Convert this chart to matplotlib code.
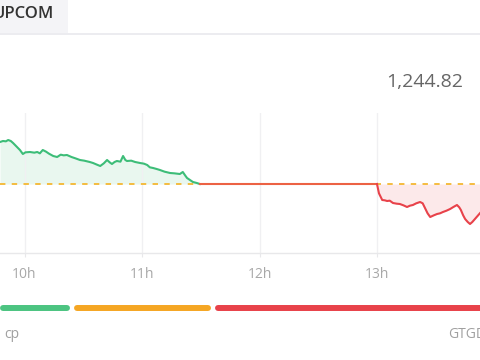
import matplotlib
matplotlib.use("Agg")
import matplotlib.pyplot as plt

# ---------------- data ----------------
ref_value = 1250.00
last_value_label = "1,244.82"
tab_label = "UPCOM"

green_times = ["09:47:30", "09:49:00", "09:50:30", "09:51:40", "09:53:00", "09:54:10", "09:56:00",
               "09:57:40", "09:59:10", "10:00:30", "10:02:50", "10:05:00", "10:06:30", "10:07:50",
               "10:09:20", "10:11:00", "10:12:30", "10:14:40", "10:16:40", "10:18:30", "10:20:00",
               "10:21:40", "10:24:00", "10:26:00", "10:28:20", "10:30:30", "10:33:20", "10:35:00",
               "10:37:00", "10:38:40", "10:40:30", "10:42:10", "10:43:30", "10:44:40", "10:46:00",
               "10:47:10", "10:49:00", "10:50:20", "10:51:30", "10:52:20", "10:54:30", "10:56:30",
               "10:59:00", "11:01:00", "11:02:40", "11:04:00", "11:05:40", "11:07:30", "11:09:10",
               "11:11:30", "11:14:20", "11:16:30", "11:19:20", "11:20:50", "11:22:00", "11:23:00",
               "11:24:30", "11:26:00", "11:28:00", "11:29:30"]
green_values = [1256.30, 1256.45, 1256.40, 1256.60, 1256.45, 1256.15, 1255.60,
                1255.10, 1254.50, 1254.75, 1254.80, 1254.70, 1254.80, 1254.60,
                1255.10, 1254.85, 1254.55, 1254.20, 1254.05, 1254.40, 1254.30,
                1254.35, 1254.05, 1253.85, 1253.60, 1253.50, 1253.30, 1253.15,
                1252.90, 1252.70, 1253.10, 1253.60, 1253.25, 1253.00, 1253.30,
                1253.45, 1253.35, 1254.20, 1253.60, 1253.45, 1253.50, 1253.30,
                1253.15, 1253.05, 1252.85, 1252.50, 1252.40, 1252.25, 1252.10,
                1251.85, 1251.65, 1251.60, 1251.50, 1251.80, 1251.30, 1250.90,
                1250.60, 1250.30, 1250.15, 1250.00]

flat_times = ["11:29:30", "13:00:00"]
flat_values = [1250.00, 1250.00]

red_times = ["13:00:00", "13:01:00", "13:02:40", "13:04:00", "13:05:10", "13:06:30", "13:08:10",
             "13:10:00", "13:11:40", "13:13:30", "13:15:20", "13:16:50", "13:18:20", "13:20:00",
             "13:22:00", "13:23:20", "13:24:30", "13:25:50", "13:27:10", "13:29:00", "13:30:40",
             "13:32:10", "13:33:40", "13:35:30", "13:37:20", "13:39:00", "13:40:50", "13:42:00",
             "13:42:50", "13:44:00", "13:45:00", "13:46:20", "13:47:30", "13:48:40", "13:50:00",
             "13:51:20", "13:52:40"]
red_values = [1250.00, 1248.60, 1247.60, 1247.55, 1247.45, 1247.50, 1247.15,
              1247.05, 1247.00, 1246.80, 1246.55, 1246.75, 1246.85, 1247.10,
              1247.30, 1247.10, 1246.40, 1245.60, 1245.05, 1245.30, 1245.50,
              1245.60, 1245.80, 1246.00, 1246.25, 1246.55, 1246.85, 1246.50,
              1246.10, 1245.30, 1244.75, 1244.30, 1244.00, 1244.30, 1244.75,
              1245.20, 1245.65]

tick_hours = [10, 11, 12, 13]
tick_labels = ["10h", "11h", "12h", "13h"]

bottom_labels = ["cp", "GTGD"]


def to_hours(s):
    h, m, sec = (int(p) for p in s.split(":"))
    return h + m / 60 + sec / 3600


gx = [to_hours(t) for t in green_times]
fx = [to_hours(t) for t in flat_times]
rx = [to_hours(t) for t in red_times]

# ---------------- figure ----------------
W, H = 480, 360
fig = plt.figure(figsize=(4.8, 3.6), dpi=100)
fig.patch.set_facecolor("white")
plt.rcParams["font.family"] = ["Open Sans", "DejaVu Sans"]

def fx_(px):
    return px / W

def fy_(py):
    return 1 - py / H

# top tab and separator
fig.patches.append(plt.Rectangle((0, fy_(33)), fx_(68), 33 / H, transform=fig.transFigure,
                                 facecolor="#f4f4f7", edgecolor="none", zorder=0))
fig.patches.append(plt.Rectangle((0, fy_(35)), 1, 2 / H, transform=fig.transFigure,
                                 facecolor="#ececf0", edgecolor="none", zorder=0))
fig.text(fx_(54), fy_(14), tab_label, ha="right", va="center", fontsize=12,
         color="#333333", fontweight="semibold")
fig.text(fx_(463), fy_(82), last_value_label, ha="right", va="center", fontsize=14,
         color="#666666")

# main chart axes
top_px, bot_px = 113, 253
ax = fig.add_axes([0, fy_(bot_px), 1, (bot_px - top_px) / H])
ax.set_facecolor("none")

px_per_hour = 117.5
x0 = 10 - 24.5 / px_per_hour
ax.set_xlim(x0, x0 + W / px_per_hour)
pts_per_px = 0.15
ax.set_ylim(ref_value - (bot_px - 184) * pts_per_px, ref_value + (184 - top_px) * pts_per_px)

green = "#3dbd78"
red = "#e8424a"
ax.fill_between(gx, green_values, ref_value, color="#e9f7ef", lw=0, zorder=1)
ax.fill_between(rx, red_values, ref_value, color="#fce9ea", lw=0, zorder=1)
ax.axhline(ref_value, color="#f5b731", lw=1.3, ls=(0, (3, 3.5)), zorder=2)
ax.plot(gx, green_values, color=green, lw=1.5, zorder=3, solid_joinstyle="round")
ax.plot(fx, flat_values, color="#ec6244", lw=1.5, zorder=3)
ax.plot(rx, red_values, color=red, lw=1.5, zorder=3, solid_joinstyle="round")

ax.set_xticks(tick_hours)
ax.set_xticklabels(tick_labels)
ax.set_yticks([])
ax.grid(axis="x", color="#f0f0f2", lw=1)
for s in ["top", "left", "right"]:
    ax.spines[s].set_visible(False)
ax.spines["bottom"].set_color("#e8e8ea")
ax.spines["bottom"].set_linewidth(1)
ax.tick_params(axis="x", length=3, color="#e8e8ea", pad=7, labelsize=10, labelcolor="#a8a8a8")

# bottom status bars
bar_y = fy_(308)
lw_bar = 4.3
for (x_a, x_b, c) in [(3, 67, "#4cc481"), (77, 208, "#f5a623"), (218, 490, "#e8424a")]:
    fig.add_artist(plt.Line2D([fx_(x_a), fx_(x_b)], [bar_y, bar_y], transform=fig.transFigure,
                              color=c, lw=lw_bar, solid_capstyle="round"))

fig.text(fx_(4), fy_(334), bottom_labels[0], ha="left", va="center", fontsize=10, color="#a0a0a0")
fig.text(fx_(448), fy_(334), bottom_labels[1], ha="left", va="center", fontsize=10, color="#a0a0a0")

fig.savefig("out.png", dpi=100, facecolor="white")
